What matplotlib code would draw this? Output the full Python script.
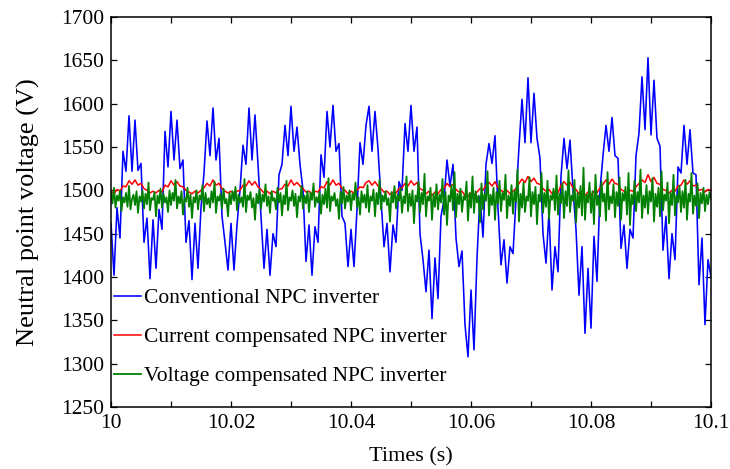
import numpy as np
import matplotlib
matplotlib.use("Agg")
import matplotlib.pyplot as plt
from matplotlib.ticker import MultipleLocator, FixedLocator

# ---------------- data ----------------
t_start, t_end = 10.0, 10.1

# Conventional NPC inverter (samples every 0.5 ms)
conventional = [
    1462, 1402, 1480, 1445, 1545, 1522, 1586, 1522, 1581, 1523, 1531, 1440, 1468, 1398, 1466, 1410, 1478, 1455,
    1568, 1527, 1591, 1535, 1581, 1525, 1535, 1440, 1465, 1397, 1462, 1410, 1480,
    1520, 1580, 1540, 1595, 1535, 1560, 1470, 1440, 1408, 1462, 1408, 1460, 1500,
    1552, 1530, 1595, 1535, 1587, 1530, 1470, 1410, 1455, 1402, 1450, 1435, 1518, 1530,
    1575, 1540, 1597, 1545, 1573, 1530, 1500, 1418, 1460, 1402, 1458, 1440,
    1541, 1515, 1591, 1550, 1598, 1545, 1554, 1470, 1462, 1412, 1455, 1412, 1478,
    1555, 1530, 1575, 1597, 1545, 1591, 1548, 1490, 1435, 1462, 1406, 1460, 1440, 1510, 1500,
    1577, 1545, 1598, 1545, 1573, 1450, 1420, 1383, 1431, 1352, 1422, 1375,
    1470, 1489, 1535, 1505, 1530, 1445, 1412, 1430, 1345, 1308, 1385, 1316, 1422,
    1493, 1446, 1530, 1554, 1531, 1563, 1480, 1414, 1443, 1393, 1435, 1427, 1490,
    1550, 1605, 1555, 1630, 1555, 1612, 1560, 1537, 1450, 1416, 1475, 1385, 1435, 1406,
    1516, 1560, 1525, 1558, 1500, 1455, 1379, 1435, 1335, 1410, 1341, 1447, 1395,
    1500, 1540, 1575, 1545, 1584, 1540, 1537, 1433, 1460, 1410, 1455, 1445,
    1540, 1566, 1631, 1570, 1653, 1564, 1627, 1560, 1551, 1431, 1470, 1398, 1450, 1420,
    1527, 1520, 1575, 1530, 1570, 1520, 1518, 1391, 1445, 1345, 1420, 1400,
]

# Current compensated NPC inverter (samples every 0.5 ms)
current_comp = [
    1499, 1496, 1501, 1499,
    1505, 1504, 1511, 1507, 1512, 1506, 1508,
    1502, 1500, 1497, 1499, 1497, 1500, 1498,
    1506, 1504, 1511, 1506, 1510, 1505, 1504,
    1500, 1498, 1496, 1499, 1497, 1500,
    1503, 1508, 1505, 1512, 1506, 1508,
    1502, 1499, 1497, 1499, 1496, 1499, 1500,
    1506, 1505, 1511, 1506, 1510, 1504,
    1501, 1497, 1499, 1496, 1499, 1497, 1501, 1502,
    1507, 1505, 1512, 1506, 1509, 1505,
    1502, 1498, 1499, 1496, 1499, 1498,
    1504, 1503, 1510, 1506, 1512, 1506, 1508,
    1502, 1500, 1496, 1499, 1497, 1500,
    1504, 1503, 1509, 1511, 1506, 1510, 1505,
    1502, 1498, 1499, 1495, 1498, 1497,
    1502, 1503, 1508, 1505, 1511, 1506, 1509,
    1502, 1500, 1496, 1499, 1494, 1498, 1496,
    1501, 1502, 1508, 1504, 1507,
    1501, 1498, 1499, 1494, 1493, 1497, 1494, 1498,
    1502, 1500, 1506, 1509, 1505, 1510,
    1503, 1500, 1498, 1500, 1496, 1499,
    1502, 1508, 1513, 1509, 1516, 1510, 1514, 1508, 1507,
    1502, 1499, 1501, 1496, 1499, 1497,
    1506, 1510, 1506, 1509, 1503,
    1501, 1496, 1499, 1494, 1498, 1494, 1499, 1497,
    1503, 1507, 1512, 1507, 1513, 1508, 1507,
    1501, 1499, 1497, 1500, 1499,
    1504, 1508, 1512, 1509, 1518, 1510, 1515, 1508, 1507,
    1501, 1500, 1497, 1500, 1499,
    1505, 1506, 1512, 1507, 1511, 1505, 1506,
    1500, 1501, 1498, 1501, 1500,
]

# Voltage compensated NPC inverter (samples every 0.25 ms)
voltage_comp = [
    1498, 1485, 1503, 1480, 1494, 1488, 1500, 1476, 1492, 1486, 1497, 1481, 1505, 1478, 1490, 1495, 1483, 1499, 1474, 1493,
    1487, 1500, 1479, 1496, 1484, 1509, 1477, 1491, 1489, 1498, 1470, 1494, 1485, 1502, 1480, 1496, 1486, 1492, 1475, 1500,
    1483, 1497, 1488, 1512, 1479, 1493, 1485, 1499, 1472, 1491, 1487, 1503, 1481, 1495, 1468, 1492, 1486, 1500, 1478, 1494,
    1489, 1506, 1476, 1497, 1484, 1491, 1480, 1499, 1486, 1510, 1474, 1493, 1488, 1496, 1479, 1502, 1485, 1490, 1470, 1497,
    1484, 1499, 1488, 1504, 1477, 1495, 1486, 1492, 1481, 1513, 1475, 1494, 1489, 1498, 1480, 1491, 1466, 1496, 1485, 1501,
    1479, 1495, 1487, 1507, 1482, 1493, 1474, 1499, 1488, 1491, 1478, 1503, 1486, 1497, 1471, 1494, 1484, 1511, 1477, 1492,
    1488, 1500, 1482, 1496, 1469, 1493, 1487, 1505, 1479, 1494, 1485, 1499, 1475, 1497, 1489, 1508, 1481, 1492, 1486, 1498,
    1473, 1495, 1484, 1502, 1480, 1514, 1476, 1493, 1488, 1497, 1482, 1490, 1467, 1498, 1485, 1504, 1479, 1494, 1487, 1500,
    1477, 1496, 1489, 1509, 1481, 1492, 1472, 1499, 1486, 1495, 1480, 1506, 1475, 1493, 1488, 1501, 1470, 1497, 1484, 1512,
    1478, 1494, 1487, 1499, 1483, 1491, 1464, 1498, 1486, 1505, 1479, 1495, 1488, 1502, 1474, 1493, 1485, 1516, 1476, 1496,
    1482, 1500, 1462, 1494, 1487, 1510, 1475, 1497, 1484, 1519, 1470, 1493, 1488, 1503, 1466, 1496, 1481, 1507, 1478, 1495,
    1486, 1513, 1472, 1498, 1460, 1494, 1487, 1506, 1477, 1521, 1469, 1496, 1484, 1502, 1475, 1493, 1489, 1510, 1465, 1497,
    1480, 1516, 1474, 1499, 1486, 1494, 1463, 1508, 1478, 1496, 1488, 1522, 1471, 1495, 1483, 1503, 1466, 1498, 1485, 1511,
    1476, 1497, 1489, 1518, 1468, 1494, 1482, 1506, 1473, 1499, 1487, 1524, 1464, 1496, 1480, 1509, 1475, 1493, 1488, 1515,
    1470, 1498, 1484, 1504, 1461, 1495, 1487, 1520, 1474, 1497, 1481, 1511, 1467, 1494, 1489, 1502, 1477, 1517, 1472, 1496,
    1485, 1508, 1468, 1499, 1482, 1523, 1475, 1494, 1488, 1512, 1463, 1497, 1480, 1505, 1471, 1526, 1466, 1495, 1486, 1509,
    1474, 1499, 1461, 1518, 1483, 1494, 1470, 1510, 1487, 1496, 1465, 1521, 1478, 1493, 1485, 1507, 1469, 1498, 1482, 1515,
    1466, 1497, 1488, 1504, 1472, 1520, 1460, 1495, 1484, 1511, 1476, 1498, 1486, 1524, 1468, 1494, 1480, 1506, 1473, 1499,
    1487, 1514, 1464, 1496, 1481, 1503, 1470, 1522, 1477, 1495, 1488, 1509, 1462, 1497, 1483, 1518, 1471, 1494, 1486, 1505,
    1475, 1499, 1480, 1512, 1466, 1496, 1487, 1520, 1473, 1494, 1482, 1508, 1468, 1497, 1485, 1503, 1476, 1495, 1484, 1498,
    1490,
]

labels = ["Conventional NPC inverter",
          "Current compensated NPC inverter",
          "Voltage compensated NPC inverter"]
colors = ["#0000ff", "#ff0000", "#008000"]
widths = [1.15, 1.1, 1.3]

x_major = [10.0, 10.02, 10.04, 10.06, 10.08, 10.1]
x_major_labels = ["10", "10.02", "10.04", "10.06", "10.08", "10.1"]
y_ticks = [1250, 1300, 1350, 1400, 1450, 1500, 1550, 1600, 1650, 1700]

# ---------------- plotting ----------------
plt.rcParams["font.family"] = ["Liberation Serif", "DejaVu Serif"]

fig = plt.figure(figsize=(7.30, 4.69), dpi=100)
ax = fig.add_axes([111 / 730, 1 - 407 / 469, 600 / 730, 390 / 469])

series = [conventional, current_comp, voltage_comp]
for vals, lab, col, lw in zip(series, labels, colors, widths):
    t = np.linspace(t_start, t_end, len(vals))
    ax.plot(t, vals, color=col, lw=lw, label=lab)

ax.set_xlim(t_start, t_end)
ax.set_ylim(1250, 1700)
ax.xaxis.set_major_locator(FixedLocator(x_major))
ax.set_xticklabels(x_major_labels)
ax.xaxis.set_minor_locator(MultipleLocator(0.01))
ax.set_yticks(y_ticks)

ax.tick_params(which="both", direction="in", top=True, right=True,
               length=4, width=0.9, labelsize=15.5, pad=5)
for s in ax.spines.values():
    s.set_linewidth(1.1)

ax.set_xlabel("Times (s)", fontsize=16, labelpad=10)
ax.set_ylabel("Neutral point voltage (V)", fontsize=19, labelpad=15)

leg = ax.legend(loc="upper left", bbox_to_anchor=(0.005, 0.305), frameon=False,
                fontsize=15.5, handlelength=1.25, handletextpad=0.15,
                labelspacing=0.88, borderpad=0, borderaxespad=0)

fig.savefig("out.png", dpi=100)
